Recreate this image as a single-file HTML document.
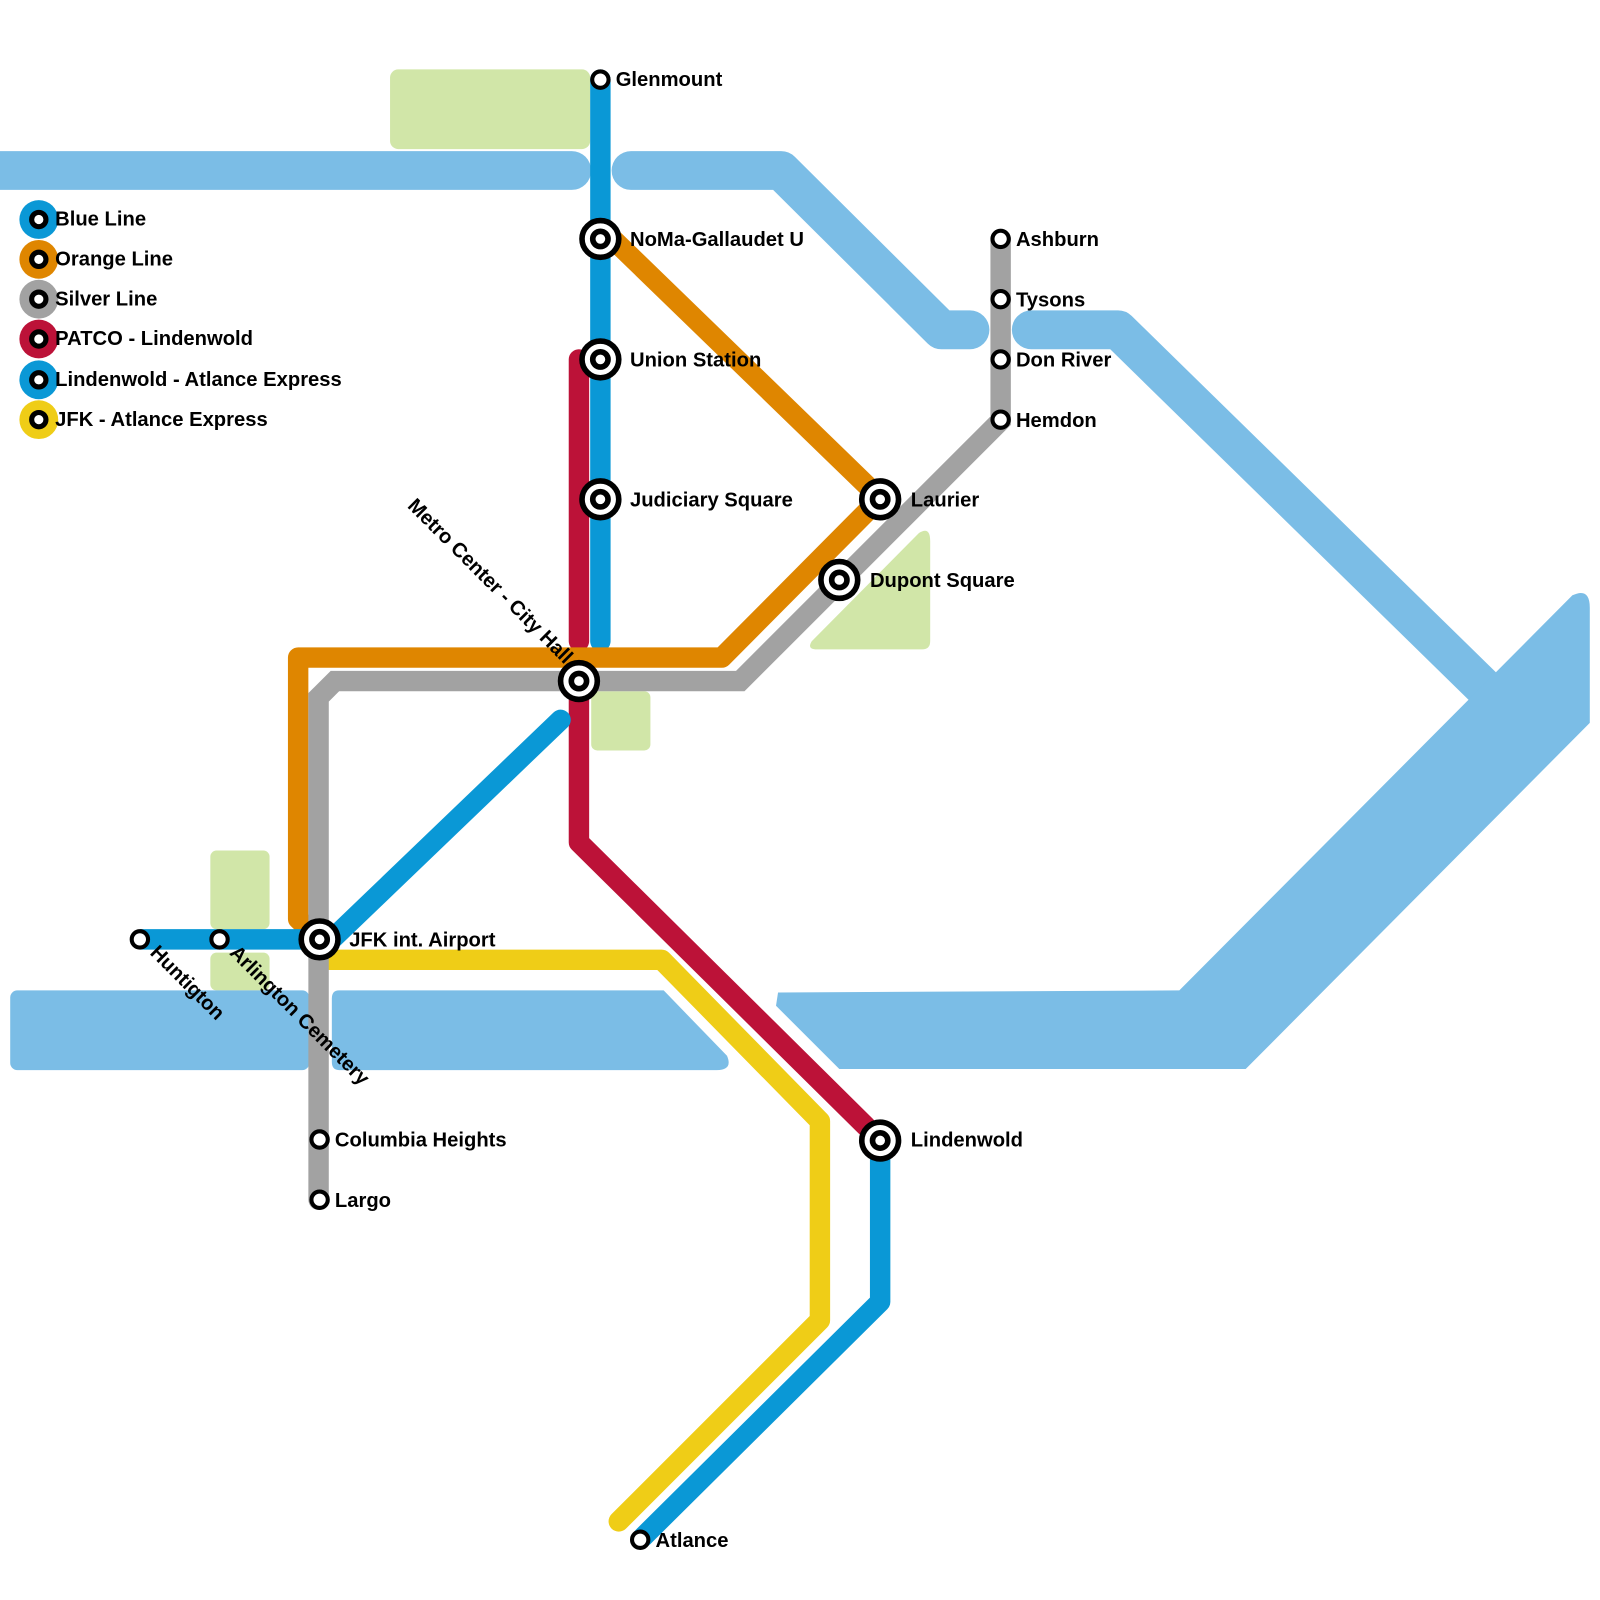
<!DOCTYPE html>
<html><head><meta charset="utf-8"><style>html,body{margin:0;padding:0;background:#fff}svg{display:block}text{font-family:"Liberation Sans",Arial,sans-serif;font-weight:bold;font-size:19.8px;fill:#000}</style></head>
<body>
<svg width="1600" height="1600" viewBox="0 0 1567 1567" xmlns="http://www.w3.org/2000/svg">
<g fill="#d1e6a8">
<rect x="382" y="68" width="196" height="78" rx="8"/>
<path d="M795,628 L900,522 Q911,515 911,530 L911,628 Q911,636 903,636 L800,636 Q790,636 795,628Z"/>
<rect x="579" y="677" width="58" height="58" rx="6"/>
<rect x="206" y="833" width="58" height="77" rx="6"/>
<rect x="206" y="933" width="58" height="37" rx="6"/>
</g>
<g fill="none" stroke="#7bbde6" stroke-width="38" stroke-linejoin="round" stroke-linecap="round">
<path d="M-20,167 L560,167"/>
<path d="M618,167 L765,167 L922,323 L950,323"/>
<path d="M1010,323 L1095,323 L1460,680"/>
</g>
<g fill="#7bbde6">
<path d="M762,972 L1155,970 L1540,583 Q1557,575 1557,595 L1557,708 L1220,1047 L822,1047 L760,985Z"/>
<rect x="10" y="970" width="293" height="78" rx="7"/>
<path d="M332,970 L650,970 L712,1034 Q718,1048 702,1048 L332,1048 Q325,1048 325,1040 L325,978 Q325,970 332,970Z"/>
</g>
<g fill="none" stroke-width="20" stroke-linejoin="round" stroke-linecap="round">
<path stroke="#0a98d6" d="M588,78 L588,628"/>
<path stroke="#efcd17" d="M320,940 L648,940 L803,1098 L803,1293 L606,1490"/>
<path stroke="#bc1238" d="M567,352 L567,628"/>
<path stroke="#bc1238" d="M567,667 L567,825 L848,1103"/>
<path stroke="#df8600" d="M600,234 L862,488 L707,644 L292,644 L292,900 L313,920"/>
<path stroke="#a2a2a2" stroke-linejoin="miter" d="M312,1175 L312,683 L328,667 L725,667 L980,412 L980,234"/>
<path stroke="#0a98d6" d="M549,705 L325,920"/>
<path stroke="#0a98d6" stroke-linecap="butt" d="M137,920 L313,920"/>
<path stroke="#0a98d6" d="M862,1117 L862,1275 L630,1505"/>
</g>
<g fill="#fff" stroke="#000">
<g stroke-width="5.5">
<circle cx="588" cy="234" r="18"/><circle cx="588" cy="234" r="7.5"/>
<circle cx="588" cy="352" r="18"/><circle cx="588" cy="352" r="7.5"/>
<circle cx="588" cy="489" r="18"/><circle cx="588" cy="489" r="7.5"/>
<circle cx="567" cy="667" r="18"/><circle cx="567" cy="667" r="7.5"/>
<circle cx="862" cy="489" r="18"/><circle cx="862" cy="489" r="7.5"/>
<circle cx="822" cy="568" r="18"/><circle cx="822" cy="568" r="7.5"/>
<circle cx="313" cy="920" r="18"/><circle cx="313" cy="920" r="7.5"/>
<circle cx="862" cy="1117" r="18"/><circle cx="862" cy="1117" r="7.5"/>
</g>
<g stroke-width="4">
<circle cx="588" cy="78" r="8"/>
<circle cx="980" cy="234" r="8"/><circle cx="980" cy="293" r="8"/><circle cx="980" cy="352" r="8"/><circle cx="980" cy="411" r="8"/>
<circle cx="137" cy="920" r="8"/><circle cx="215" cy="920" r="8"/>
<circle cx="313" cy="1116" r="8"/><circle cx="313" cy="1175" r="8"/>
<circle cx="627" cy="1508" r="8"/>
</g>
</g>
<g>
<circle cx="38" cy="215" r="19" fill="#0a98d6"/>
<circle cx="38" cy="254" r="19" fill="#df8600"/>
<circle cx="38" cy="293" r="19" fill="#a2a2a2"/>
<circle cx="38" cy="332" r="19" fill="#bc1238"/>
<circle cx="38" cy="372" r="19" fill="#0a98d6"/>
<circle cx="38" cy="411" r="19" fill="#efcd17"/>
<g fill="#fff" stroke="#000" stroke-width="5">
<circle cx="38" cy="215" r="7"/><circle cx="38" cy="254" r="7"/><circle cx="38" cy="293" r="7"/>
<circle cx="38" cy="332" r="7"/><circle cx="38" cy="372" r="7"/><circle cx="38" cy="411" r="7"/>
</g>
<text x="54" y="221">Blue Line</text>
<text x="54" y="260">Orange Line</text>
<text x="54" y="299">Silver Line</text>
<text x="54" y="338">PATCO - Lindenwold</text>
<text x="54" y="378">Lindenwold - Atlance Express</text>
<text x="54" y="417">JFK - Atlance Express</text>
</g>
<text x="603" y="84">Glenmount</text>
<text x="617" y="241">NoMa-Gallaudet U</text>
<text x="617" y="359">Union Station</text>
<text x="617" y="496">Judiciary Square</text>
<text x="892" y="496">Laurier</text>
<text x="852" y="575">Dupont Square</text>
<text x="342" y="927">JFK int. Airport</text>
<text x="892" y="1123">Lindenwold</text>
<text x="995" y="241">Ashburn</text>
<text x="995" y="300">Tysons</text>
<text x="995" y="359">Don River</text>
<text x="995" y="418">Hemdon</text>
<text x="328" y="1123">Columbia Heights</text>
<text x="328" y="1182">Largo</text>
<text x="642" y="1515">Atlance</text>
<text transform="translate(553,651) rotate(45)" text-anchor="end">Metro Center - City Hall</text>
<text transform="translate(146,934) rotate(45)">Huntigton</text>
<text transform="translate(224,934) rotate(45)">Arlington Cemetery</text>
</svg>
</body></html>
